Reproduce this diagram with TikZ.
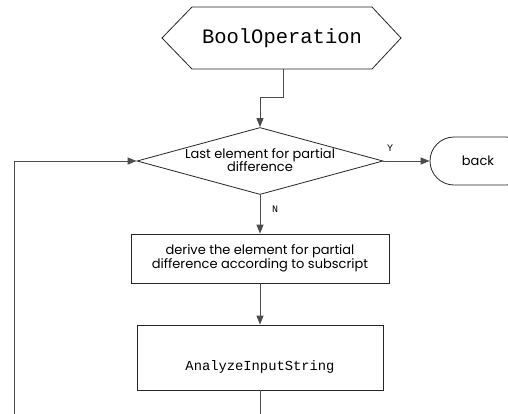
\documentclass[tikz,border=0pt]{standalone}
\usepackage{fontspec}
\setmainfont{Poppins}
\newfontfamily\monofont{Liberation Mono}
\usetikzlibrary{arrows.meta,shapes.geometric,shapes.misc,calc}
\begin{document}
\begin{tikzpicture}[x=1pt,y=-1pt,
  shapeline/.style={draw=black!85, line width=0.8pt},
  conn/.style={draw=black!70, line width=0.9pt},
  arr/.style={conn, -{Triangle[length=9pt,width=7pt]}},
  sanstext/.style={font=\fontsize{13}{13.5}\selectfont, align=center, inner sep=0pt},
  monotext/.style={font=\monofont, inner sep=0pt},
  lbl/.style={font=\monofont\fontsize{10}{10}\selectfont, inner sep=0pt}]
\useasboundingbox[fill=white] (0,0) rectangle (508,413);
% start hexagon
\draw[shapeline] (162,38) -- (192,7) -- (372,7) -- (401,38) -- (372,69) -- (192,69) -- cycle;
\node[monotext, font=\monofont\fontsize{20.5}{22}\selectfont] (start) at (282,38) {BoolOperation};
\coordinate (startbot) at (283,69);
% decision
\node[diamond, shapeline, minimum width=246pt, minimum height=67pt, inner sep=0pt] (dec) at (260,161) {};
\node[sanstext] (dectext) at (260,160) {Last element for partial\\difference};
% back
\node[rounded rectangle, shapeline, minimum width=100pt, minimum height=48pt, inner sep=0pt] (back) at (480,161) {};
\node[sanstext, font=\fontsize{13}{13.5}\selectfont] (backtext) at (478,161) {back};
% process 1
\node[rectangle, shapeline, minimum width=258pt, minimum height=49pt, inner sep=0pt] (p1) at (260,258.5) {};
\node[sanstext] (p1text) at (260,258.5) {derive the element for partial\\difference according to subscript};
% process 2
\node[rectangle, shapeline, minimum width=246pt, minimum height=65pt, inner sep=0pt] (p2) at (260,357.5) {};
\node[monotext, font=\monofont\fontsize{13.8}{15}\selectfont] (p2text) at (260,367) {AnalyzeInputString};
% connectors
\draw[arr] (startbot) -- (283,97) -| (dec.north);
\draw[arr] (dec.east) -- (back.west);
\node[lbl] (ylbl) at (390,148) {Y};
\draw[arr] (dec.south) -- (p1.north);
\node[lbl] (nlbl) at (275,209) {N};
\draw[arr] (p1.south) -- (p2.north);
\coordinate (p2out) at (260,416);
\draw[conn] (p2.south) -- (p2out);
\coordinate (loopbot) at (14,416);
\draw[arr] (loopbot) |- (dec.west);
\end{tikzpicture}
\end{document}
